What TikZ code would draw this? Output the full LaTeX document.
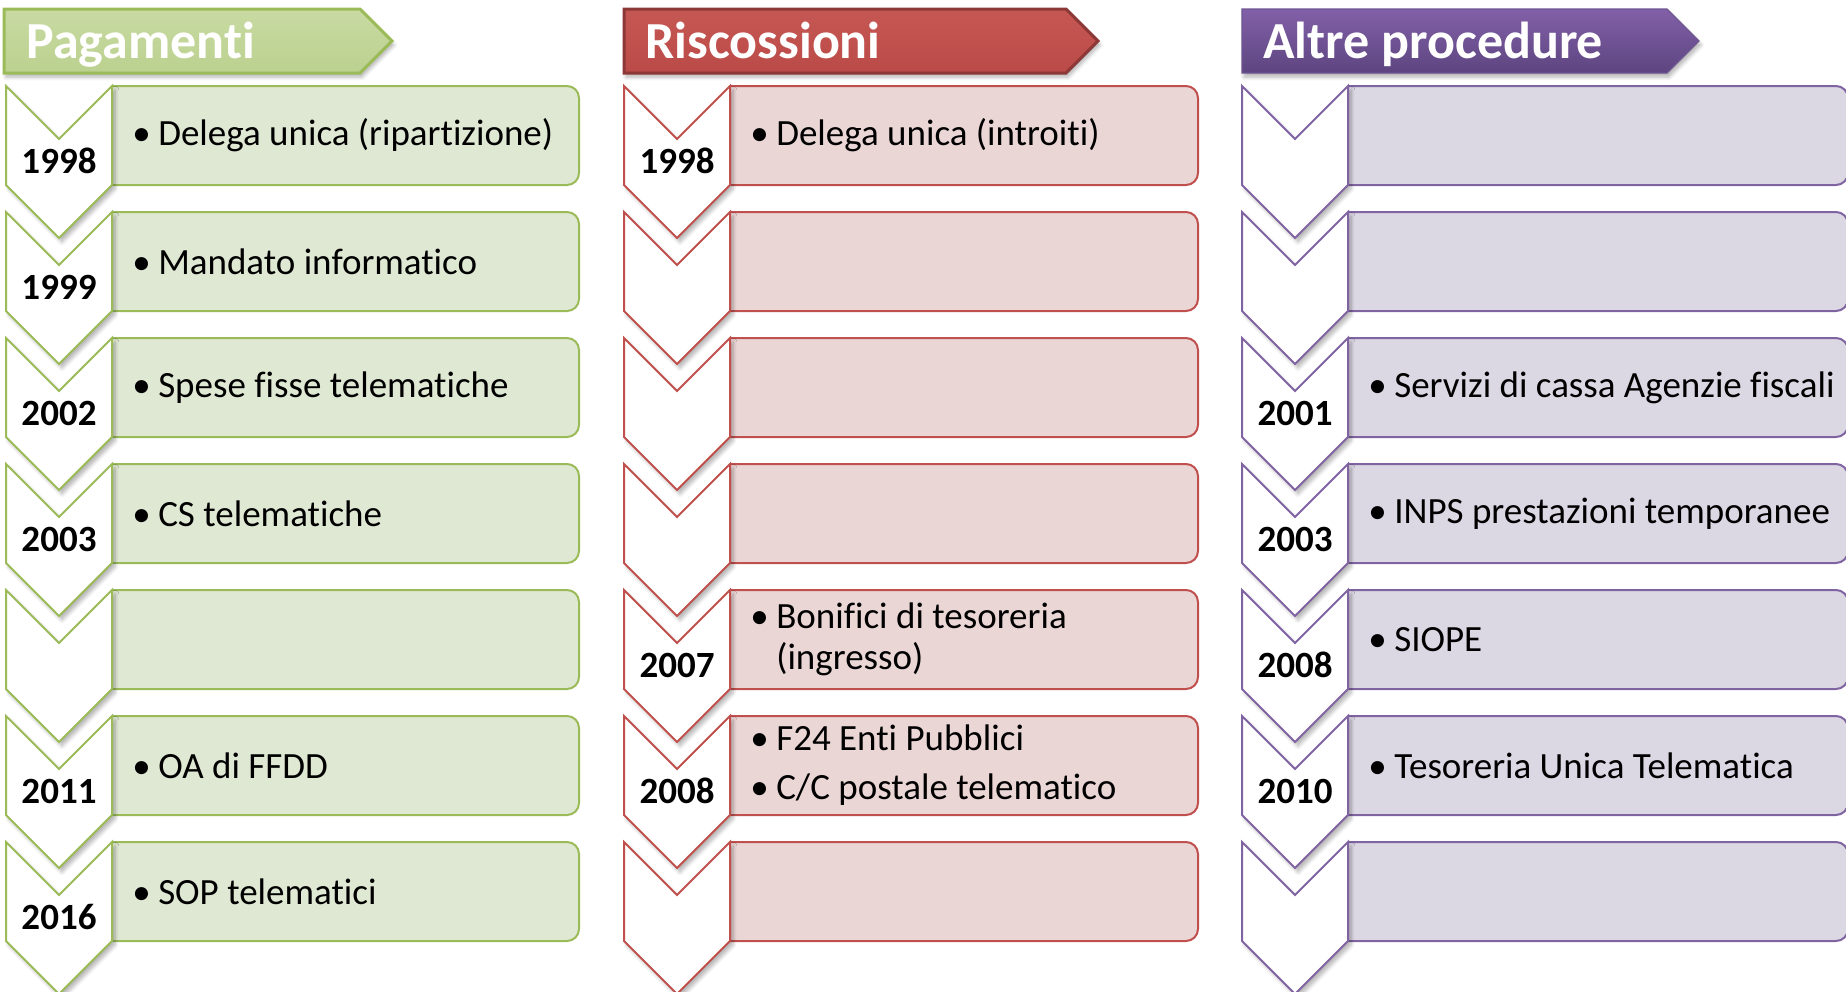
\documentclass[tikz,border=0pt]{standalone}
\usepackage{fontspec}
\setmainfont{Carlito}[Ligatures={NoCommon}]
\usetikzlibrary{shadows.blur}

\definecolor{pagline}{HTML}{9BBB59}
\definecolor{pagfill}{HTML}{DFE8D3}
\definecolor{pagtop}{HTML}{C8DAA2}
\definecolor{pagbot}{HTML}{BBD18F}
\definecolor{risline}{HTML}{C0504D}
\definecolor{risfill}{HTML}{EBD6D6}
\definecolor{ristop}{HTML}{C65854}
\definecolor{risbot}{HTML}{BA4A47}
\definecolor{risedge}{HTML}{8C3836}
\definecolor{altline}{HTML}{8064A2}
\definecolor{altfill}{HTML}{DBD7E3}
\definecolor{alttop}{HTML}{8260A8}
\definecolor{altbot}{HTML}{5D4580}
\definecolor{altedge}{HTML}{6E5592}

\newcommand\bul{\makebox[0.7em][l]{\textbullet}}

% one step of a column: left x, right x of the box, row, colour prefix
\newcommand\fase[4]{%
  \pgfmathsetmacro\ftop{86+126*#3}%
  \pgfmathsetmacro\fbot{\ftop+99}%
  \begin{scope}
    \clip (#1+106,\ftop-5) rectangle (#2+5,\fbot+5);
    \draw[#4line, fill=#4fill, line width=1pt, rounded corners=6pt]
      (#1+80,\ftop) rectangle (#2,\fbot);
  \end{scope}
  \draw[#4line, fill=white, line width=1pt, chevshadow]
    (#1,\ftop) -- (#1+53,\ftop+53) -- (#1+106,\ftop) -- (#1+106,\fbot)
    -- (#1+53,\fbot+53) -- (#1,\fbot) -- cycle;
}

\tikzset{
  chevshadow/.style={blur shadow={shadow xshift=1.5pt, shadow yshift=-2pt, shadow opacity=30, shadow blur steps=6}},
  headshadow/.style={blur shadow={shadow xshift=1pt, shadow yshift=-2pt, shadow opacity=30, shadow blur steps=6}},
  anno/.style={font=\bfseries\fontsize{18.5}{20}\selectfont, inner sep=0pt},
  voce/.style={font=\fontsize{18.5}{20.5}\selectfont, anchor=west, align=left, inner sep=0pt},
  titolo/.style={font=\bfseries\fontsize{26}{30}\selectfont, text=white, anchor=base west, inner sep=0pt},
}

\begin{document}
\begin{tikzpicture}[x=0.5pt, y=-0.5pt]
\useasboundingbox (0,0) rectangle (1846,991);

% headers
\draw[top color=pagtop, bottom color=pagbot, draw=pagline, line width=1.5pt, headshadow]
  (4,9) -- (360,9) -- (392,41) -- (360,73) -- (4,73) -- cycle;
\draw[top color=ristop, bottom color=risbot, draw=risedge, line width=1.5pt, headshadow]
  (624,9) -- (1066,9) -- (1098,41) -- (1066,73) -- (624,73) -- cycle;
\draw[top color=alttop, bottom color=altbot, draw=altedge, line width=.6pt, headshadow]
  (1242,9) -- (1667,9) -- (1699,41) -- (1667,73) -- (1242,73) -- cycle;
\node[titolo] (tpag) at (26,58) {Pagamenti};
\node[titolo] (tris) at (645,58) {Riscossioni};
\node[titolo] (talt) at (1263,58) {Altre procedure};

% steps
\foreach \r in {0,...,6}{
  \fase{6}{579}{\r}{pag}
  \fase{624}{1198}{\r}{ris}
  \fase{1242}{1848}{\r}{alt}
}

% Pagamenti
\node[anno] (pag98) at (59,161) {1998};
\node[voce] (vpag98) at (132,135.5) {\bul Delega unica (ripartizione)};
\node[anno] (pag99) at (59,287) {1999};
\node[voce] (vpag99) at (132,261.5) {\bul Mandato informatico};
\node[anno] (pag02) at (59,413) {2002};
\node[voce] (vpag02) at (132,387.5) {\bul Spese fisse telematiche};
\node[anno] (pag03) at (59,539) {2003};
\node[voce] (vpag03) at (132,513.5) {\bul CS telematiche};
\node[anno] (pag11) at (59,791) {2011};
\node[voce] (vpag11) at (132,765.5) {\bul OA di FFDD};
\node[anno] (pag16) at (59,917) {2016};
\node[voce] (vpag16) at (132,891.5) {\bul SOP telematici};

% Riscossioni
\node[anno] (ris98) at (677,161) {1998};
\node[voce] (vris98) at (750,135.5) {\bul Delega unica (introiti)};
\node[anno] (ris07) at (677,665) {2007};
\node[voce] (vris07) at (750,639.5) {\bul Bonifici di tesoreria\\\hphantom{\bul}(ingresso)};
\node[anno] (ris08) at (677,791) {2008};
\node[voce] (vris08) at (750,765.5) {\bul F24 Enti Pubblici\\[4pt]\bul C/C postale telematico};

% Altre procedure
\node[anno] (alt01) at (1295,413) {2001};
\node[voce] (valt01) at (1368,387.5) {\bul Servizi di cassa Agenzie fiscali};
\node[anno] (alt03) at (1295,539) {2003};
\node[voce] (valt03) at (1368,513.5) {\bul INPS prestazioni temporanee};
\node[anno] (alt08) at (1295,665) {2008};
\node[voce] (valt08) at (1368,639.5) {\bul SIOPE};
\node[anno] (alt10) at (1295,791) {2010};
\node[voce] (valt10) at (1368,765.5) {\bul Tesoreria Unica Telematica};
\end{tikzpicture}
\end{document}
